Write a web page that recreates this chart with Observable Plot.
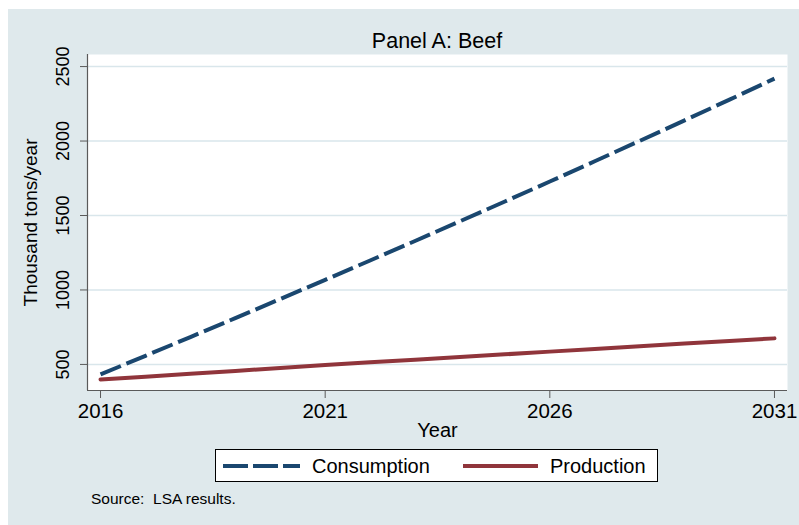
<!DOCTYPE html>
<html>
<head>
<meta charset="utf-8">
<script src="https://cdn.jsdelivr.net/npm/d3@7"></script>
<script src="https://cdn.jsdelivr.net/npm/@observablehq/plot@0.6"></script>
<style>
  html, body { margin: 0; padding: 0; background: #ffffff; }
  body { width: 799px; height: 525px; position: relative; overflow: hidden;
         font-family: "Liberation Sans", Arial, Helvetica, sans-serif; }
  #bg { position: absolute; left: 8px; top: 9px; right: 0; bottom: 0; background: #dfe9ec; }
  #title { position: absolute; left: 87px; width: 700px; top: 29px; text-align: center;
           font-size: 21.5px; line-height: 24px; color: #000; }
  #chart { position: absolute; left: 0; top: 48px; }
  #legend { position: absolute; left: 0; top: 0; }
  #source { position: absolute; left: 91px; top: 490px; font-size: 15.5px; line-height: 17px;
            white-space: pre; color: #000; }
</style>
</head>
<body>
<div id="bg"></div>
<div id="title">Panel A: Beef</div>
<div id="chart"></div>
<svg id="legend" width="799" height="525"></svg>
<div id="source">Source:  LSA results.</div>
<script>
// ---- data ----
const years = [2016, 2017, 2018, 2019, 2020, 2021, 2022, 2023, 2024, 2025, 2026, 2027, 2028, 2029, 2030, 2031];
const consumption = [433, 558, 684, 811, 939, 1068, 1198, 1329, 1461, 1594, 1728, 1864, 2001, 2139, 2278, 2419];
const production  = [399, 418, 437, 456, 476, 496, 514, 532, 550, 568, 586, 604, 622, 640, 657, 675];
const seriesNames = ["Consumption", "Production"];
const seriesColors = ["#1a476f", "#90353b"];
const xTicks = [2016, 2021, 2026, 2031];
const yTicks = [500, 1000, 1500, 2000, 2500];
const xDomain = [2015.71, 2031.29];
const yDomain = [325, 2581];

const consData = years.map((y, i) => ({year: y, value: consumption[i], series: seriesNames[0]}));
const prodData = years.map((y, i) => ({year: y, value: production[i], series: seriesNames[1]}));

const font = "Liberation Sans, Arial, Helvetica, sans-serif";
const axisGray = "#5a5a5a";

const chart = Plot.plot({
  width: 799,
  height: 400,
  marginLeft: 87,
  marginRight: 12,
  marginTop: 6,
  marginBottom: 58,
  x: {domain: xDomain},
  y: {domain: yDomain},
  style: {background: "transparent", fontFamily: font, color: "#000", overflow: "visible"},
  marks: [
    Plot.frame({fill: "white"}),
    Plot.gridY(yTicks, {stroke: "#d9e6eb", strokeOpacity: 1, strokeWidth: 1.5}),
    Plot.axisY({ticks: yTicks, tickSize: 7, tickFormat: () => "", label: null, stroke: axisGray}),
    Plot.text(yTicks, {y: d => d, text: d => String(d), frameAnchor: "left", dx: -24, rotate: -90,
                       fontSize: 18, fill: "#000", textAnchor: "middle", lineAnchor: "middle"}),
    Plot.axisX({ticks: xTicks, tickSize: 8, tickPadding: 5, tickFormat: d => String(d), fontSize: 20.5,
                label: null, stroke: axisGray, fill: "#000"}),
    Plot.ruleX([xDomain[0]], {stroke: axisGray, strokeWidth: 1.2}),
    Plot.ruleY([yDomain[0]], {stroke: axisGray, strokeWidth: 1.2}),
    Plot.text(["Year"], {text: d => d, frameAnchor: "bottom", dy: 40, fontSize: 20, fill: "#000",
                         textAnchor: "middle", lineAnchor: "middle"}),
    Plot.text(["Thousand tons/year"], {text: d => d, frameAnchor: "left", dx: -57, rotate: -90,
                                       fontSize: 19, fill: "#000", textAnchor: "middle", lineAnchor: "middle"}),
    Plot.line(consData, {x: "year", y: "value", stroke: seriesColors[0], strokeWidth: 4,
                         strokeDasharray: "22,6", strokeLinecap: "butt"}),
    Plot.line(prodData, {x: "year", y: "value", stroke: seriesColors[1], strokeWidth: 4,
                         strokeLinecap: "round"})
  ]
});
document.getElementById("chart").appendChild(chart);

// ---- legend ----
const lg = d3.select("#legend");
lg.append("rect").attr("x", 215.5).attr("y", 449.5).attr("width", 442).attr("height", 32)
  .attr("fill", "white").attr("stroke", "#000").attr("stroke-width", 1);
lg.append("line").attr("x1", 223).attr("x2", 300).attr("y1", 466).attr("y2", 466)
  .attr("stroke", seriesColors[0]).attr("stroke-width", 4).attr("stroke-dasharray", "25,5");
lg.append("text").attr("x", 312).attr("y", 466).attr("dy", "0.35em").attr("font-size", 20)
  .attr("font-family", font).text(seriesNames[0]);
lg.append("line").attr("x1", 463).attr("x2", 538).attr("y1", 466).attr("y2", 466)
  .attr("stroke", seriesColors[1]).attr("stroke-width", 4);
lg.append("text").attr("x", 550).attr("y", 466).attr("dy", "0.35em").attr("font-size", 20)
  .attr("font-family", font).text(seriesNames[1]);
</script>
</body>
</html>
